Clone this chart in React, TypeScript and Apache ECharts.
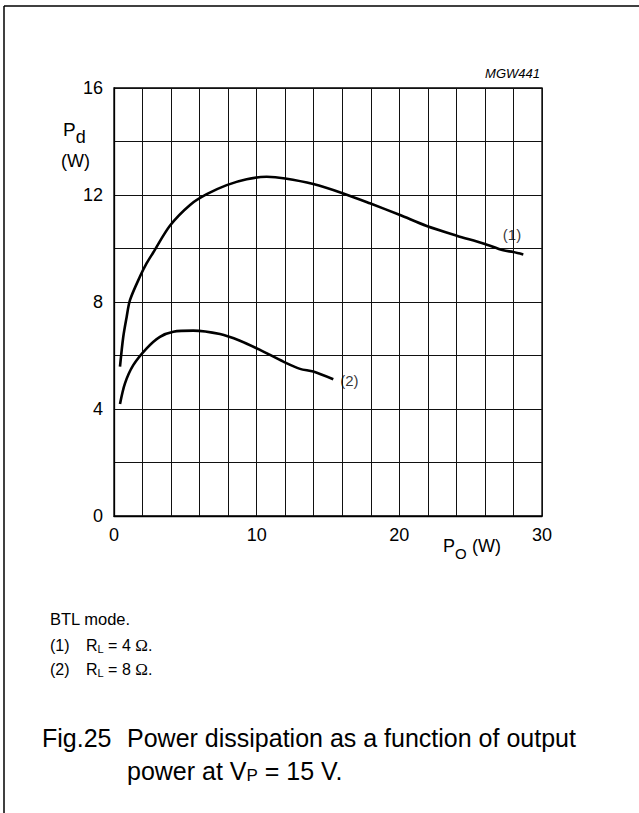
import React, { useEffect, useRef } from "react";
import * as echarts from "echarts";

// Curve (1): RL = 4 ohm
const curve1X = [0.42, 0.65, 0.89, 1.12, 1.82, 2.29, 2.75, 3.93, 5.33, 6.5, 7.9, 9.3, 10.7, 12.0, 13.97, 16.07, 17.94, 20.05, 21.92, 24.02, 25.89, 27.29, 27.99, 28.69];
const curve1Y = [5.58, 6.7, 7.45, 8.07, 8.95, 9.45, 9.85, 10.86, 11.63, 12.03, 12.37, 12.59, 12.68, 12.62, 12.41, 12.06, 11.69, 11.25, 10.84, 10.48, 10.19, 9.93, 9.87, 9.78];
// Curve (2): RL = 8 ohm
const curve2X = [0.42, 0.77, 1.35, 2.29, 3.22, 4.16, 5.56, 7.43, 8.83, 10.23, 11.87, 13.04, 13.97, 15.37];
const curve2Y = [4.19, 4.96, 5.64, 6.27, 6.7, 6.89, 6.93, 6.8, 6.55, 6.21, 5.77, 5.5, 5.4, 5.11];

const curveNames = ["(1)", "(2)"];
const curveLabelX = [27.9, 16.5];
const curveLabelY = [10.54, 5.05];

const xTickLabels = [0, 10, 20, 30];
const yTickLabels = [0, 4, 8, 12, 16];

const SANS = "'Liberation Sans', Arial, sans-serif";
const SERIF = "'Liberation Serif', 'Times New Roman', serif";

function measure(text: string, size: number, family: string, style = "normal"): number {
  const c = document.createElement("canvas");
  const ctx = c.getContext("2d")!;
  ctx.font = `${style} ${size}px ${family}`;
  return ctx.measureText(text).width;
}

type Piece = { t: string; size: number; family?: string; dy?: number; style?: string; at?: number };

function runText(x: number, y: number, pieces: Piece[]): any[] {
  const out: any[] = [];
  let cx = x;
  for (const p of pieces) {
    const fam = p.family || SANS;
    if (p.at !== undefined) cx = p.at;
    out.push({
      type: "text",
      x: cx,
      y: y + (p.dy || 0),
      style: {
        text: p.t,
        fontSize: p.size,
        fontFamily: fam,
        fontStyle: p.style || "normal",
        fill: "#000",
        align: "left",
        verticalAlign: "middle",
      },
    });
    cx += measure(p.t, p.size, fam, p.style || "normal");
  }
  return out;
}

export default function App() {
  const ref = useRef<HTMLDivElement>(null);
  useEffect(() => {
    if (!ref.current) return;
    const chart = echarts.init(ref.current, undefined, { renderer: "svg" });
    const gLeft = 114, gTop = 88, gW = 428, gH = 428;

    const noteLine = (y: number, num: string, val: string) =>
      runText(50, y, [
        { t: num, size: 16 },
        { t: "R", size: 16, at: 86 },
        { t: "L", size: 11, dy: 4 },
        { t: " = " + val + " ", size: 16 },
        { t: "Ω", size: 17, family: SERIF },
        { t: ".", size: 16 },
      ]);

    const graphics: any[] = [
      { type: "line", shape: { x1: 4, y1: 6, x2: 639, y2: 6 }, style: { stroke: "#000", lineWidth: 1.5 } },
      { type: "line", shape: { x1: 4, y1: 6, x2: 4, y2: 813 }, style: { stroke: "#000", lineWidth: 1.5 } },
      {
        type: "text", x: 540, y: 73,
        style: { text: "MGW441", fontSize: 13, fontStyle: "italic", fontFamily: SANS, fill: "#000", align: "right", verticalAlign: "middle" },
      },
      ...runText(63, 129, [{ t: "P", size: 19 }, { t: "d", size: 18, dy: 8 }]),
      ...runText(61, 161, [{ t: "(W)", size: 18 }]),
      ...runText(443, 546, [{ t: "P", size: 18 }, { t: "O", size: 15, dy: 7 }, { t: " (W)", size: 18, at: 467 }]),
      ...runText(50, 619, [{ t: "BTL mode.", size: 16.5 }]),
      ...noteLine(645, "(1)", "4"),
      ...noteLine(669, "(2)", "8"),
      ...runText(42, 738, [{ t: "Fig.25", size: 25 }]),
      ...runText(127, 738, [{ t: "Power dissipation as a function of output", size: 25 }]),
      ...runText(127, 771, [{ t: "power at V", size: 25 }, { t: "P", size: 17, dy: 4 }, { t: " = 15 V.", size: 25 }]),
    ];

    chart.setOption({
      animation: false,
      backgroundColor: "#fff",
      grid: { left: gLeft, top: gTop, width: gW, height: gH, show: true, borderColor: "#000", borderWidth: 1.3, containLabel: false },
      xAxis: {
        type: "value", min: 0, max: 30, interval: 2,
        axisLine: { show: true, lineStyle: { color: "#000", width: 1.3 } },
        axisTick: { show: false },
        splitLine: { show: true, lineStyle: { color: "#111", width: 1 } },
        axisLabel: {
          margin: 10, fontSize: 18, fontFamily: SANS, color: "#000",
          formatter: (v: number) => (xTickLabels.includes(v) ? String(v) : ""),
        },
      },
      yAxis: {
        type: "value", min: 0, max: 16, interval: 2,
        axisLine: { show: true, lineStyle: { color: "#000", width: 1.3 } },
        axisTick: { show: false },
        splitLine: { show: true, lineStyle: { color: "#111", width: 1 } },
        axisLabel: {
          margin: 11, fontSize: 18, fontFamily: SANS, color: "#000",
          formatter: (v: number) => (yTickLabels.includes(v) ? String(v) : ""),
        },
      },
      series: [
        {
          type: "line", smooth: 0.3, showSymbol: false, silent: true,
          lineStyle: { color: "#000", width: 2.6 },
          data: curve1X.map((x, i) => [x, curve1Y[i]]),
        },
        {
          type: "line", smooth: 0.3, showSymbol: false, silent: true,
          lineStyle: { color: "#000", width: 2.6 },
          data: curve2X.map((x, i) => [x, curve2Y[i]]),
        },
        {
          type: "scatter", symbolSize: 0, silent: true,
          data: curveNames.map((n, i) => ({ value: [curveLabelX[i], curveLabelY[i]], name: n })),
          label: {
            show: true, position: "inside", formatter: (p: any) => p.name,
            fontSize: 15, fontFamily: SANS, color: "#000",
          },
        },
      ],
      graphic: graphics,
    });
    return () => chart.dispose();
  }, []);
  return <div ref={ref} style={{ position: "absolute", left: 0, top: 0, width: 639, height: 813, background: "#fff" }} />;
}
